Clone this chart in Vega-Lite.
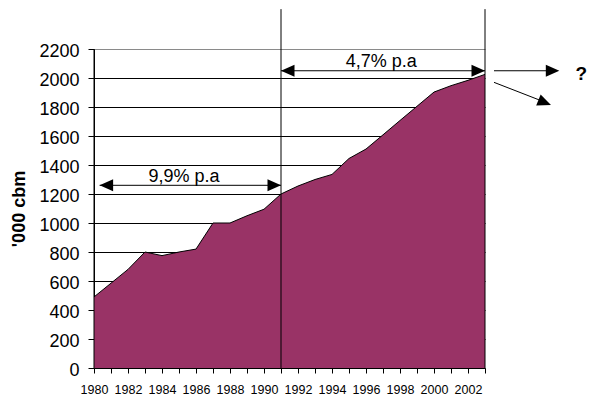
{
  "$schema": "https://vega.github.io/schema/vega-lite/v6.json",
  "width": 391,
  "height": 319,
  "autosize": "none",
  "padding": {"left": 94, "top": 49, "right": 104, "bottom": 28},
  "background": "white",
  "config": {
    "font": "Liberation Sans",
    "view": {"stroke": null}
  },
  "datasets": {
    "volume": [
      {"year": 1980, "cbm": 490},
      {"year": 1981, "cbm": 585},
      {"year": 1982, "cbm": 680},
      {"year": 1983, "cbm": 800},
      {"year": 1984, "cbm": 775},
      {"year": 1985, "cbm": 800},
      {"year": 1986, "cbm": 820},
      {"year": 1987, "cbm": 1000},
      {"year": 1988, "cbm": 1000},
      {"year": 1989, "cbm": 1050},
      {"year": 1990, "cbm": 1095},
      {"year": 1991, "cbm": 1200},
      {"year": 1992, "cbm": 1255},
      {"year": 1993, "cbm": 1300},
      {"year": 1994, "cbm": 1335},
      {"year": 1995, "cbm": 1445},
      {"year": 1996, "cbm": 1510},
      {"year": 1997, "cbm": 1608},
      {"year": 1998, "cbm": 1707},
      {"year": 1999, "cbm": 1805},
      {"year": 2000, "cbm": 1903},
      {"year": 2001, "cbm": 1947},
      {"year": 2002, "cbm": 1984},
      {"year": 2003, "cbm": 2025}
    ],
    "dividers": [
      {"year": 1980, "cbm": 0, "cbm2": 2200},
      {"year": 1991, "cbm": 0, "cbm2": 2475},
      {"year": 2003, "cbm": 0, "cbm2": 2475}
    ],
    "shafts": [
      {"year": 1980.33, "year2": 1991, "cbm": 1260, "cbm2": 1260},
      {"year": 1991, "year2": 2003, "cbm": 2050, "cbm2": 2050},
      {"year": 2003.53, "year2": 2007.1, "cbm": 2050, "cbm2": 2050},
      {"year": 2003.53, "year2": 2006.6, "cbm": 1970, "cbm2": 1830}
    ],
    "heads": [
      {"year": 1980.33, "cbm": 1260, "dir": "left"},
      {"year": 1991, "cbm": 1260, "dir": "right"},
      {"year": 1991, "cbm": 2050, "dir": "left"},
      {"year": 2003, "cbm": 2050, "dir": "right"},
      {"year": 2007.37, "cbm": 2050, "dir": "right"}
    ],
    "slopeHead": [
      {"year": 2006.88, "cbm": 1814}
    ],
    "rates": [
      {"year": 1985.3, "cbm": 1280, "label": "9,9% p.a"},
      {"year": 1996.9, "cbm": 2078, "label": "4,7% p.a"}
    ],
    "outlook": [
      {"year": 2008.66, "cbm": 2030, "label": "?"}
    ]
  },
  "encoding": {
    "x": {
      "field": "year",
      "type": "quantitative",
      "scale": {"domain": [1980, 2003], "nice": false, "zero": false},
      "axis": {
        "title": null,
        "values": [1980, 1981, 1982, 1983, 1984, 1985, 1986, 1987, 1988, 1989, 1990, 1991, 1992, 1993, 1994, 1995, 1996, 1997, 1998, 1999, 2000, 2001, 2002, 2003],
        "format": "d",
        "labelExpr": "datum.value % 2 == 0 ? datum.label : ''",
        "labelFontSize": 12.5,
        "labelColor": "black",
        "labelPadding": 10,
        "labelFlush": false,
        "labelOverlap": false,
        "tickSize": 5,
        "tickColor": "black",
        "domainColor": "black",
        "grid": false,
        "zindex": 1
      }
    },
    "y": {
      "field": "cbm",
      "type": "quantitative",
      "scale": {"domain": [0, 2200], "nice": false},
      "axis": {
        "title": "'000 cbm",
        "titleFontSize": 18,
        "titleFontWeight": "bold",
        "titleColor": "black",
        "titlePadding": 10,
        "values": [0, 200, 400, 600, 800, 1000, 1200, 1400, 1600, 1800, 2000, 2200],
        "format": "d",
        "labelFontSize": 18,
        "labelColor": "black",
        "labelPadding": 9,
        "labelOffset": 2,
        "labelOverlap": false,
        "labelFlush": false,
        "tickSize": 6,
        "tickColor": "black",
        "domainColor": "black",
        "grid": true,
        "gridColor": {"condition": {"test": "datum.value == 2200", "value": "#8a8a8a"}, "value": "black"},
        "gridWidth": 1,
        "gridOpacity": 1
      }
    }
  },
  "layer": [
    {
      "data": {"name": "volume"},
      "mark": {
        "type": "area",
        "color": "#993366",
        "opacity": 1,
        "line": {"color": "black", "strokeWidth": 1}
      }
    },
    {
      "data": {"name": "dividers"},
      "mark": {"type": "rule", "color": "black", "strokeWidth": 1},
      "encoding": {
        "y2": {"field": "cbm2"}
      }
    },
    {
      "data": {"name": "shafts"},
      "mark": {"type": "rule", "color": "black", "strokeWidth": 1},
      "encoding": {
        "x2": {"field": "year2"},
        "y2": {"field": "cbm2"}
      }
    },
    {
      "data": {"name": "heads"},
      "mark": {"type": "point", "filled": true, "color": "black", "opacity": 1, "size": 182, "strokeWidth": 0},
      "encoding": {
        "shape": {
          "field": "dir",
          "type": "nominal",
          "scale": {"domain": ["left", "right"], "range": ["M0,0L2,-0.89L2,0.89Z", "M0,0L-2,-0.89L-2,0.89Z"]},
          "legend": null
        }
      }
    },
    {
      "data": {"name": "slopeHead"},
      "mark": {"type": "point", "filled": true, "color": "black", "opacity": 1, "size": 182, "strokeWidth": 0, "shape": "M0,0L-2,-0.89L-2,0.89Z", "angle": 21.7}
    },
    {
      "data": {"name": "rates"},
      "mark": {"type": "text", "fontSize": 18, "color": "black", "align": "center", "baseline": "alphabetic"},
      "encoding": {
        "text": {"field": "label"}
      }
    },
    {
      "data": {"name": "outlook"},
      "mark": {"type": "text", "fontSize": 19, "fontWeight": "bold", "color": "black", "align": "center", "baseline": "middle"},
      "encoding": {
        "text": {"field": "label"}
      }
    }
  ]
}
